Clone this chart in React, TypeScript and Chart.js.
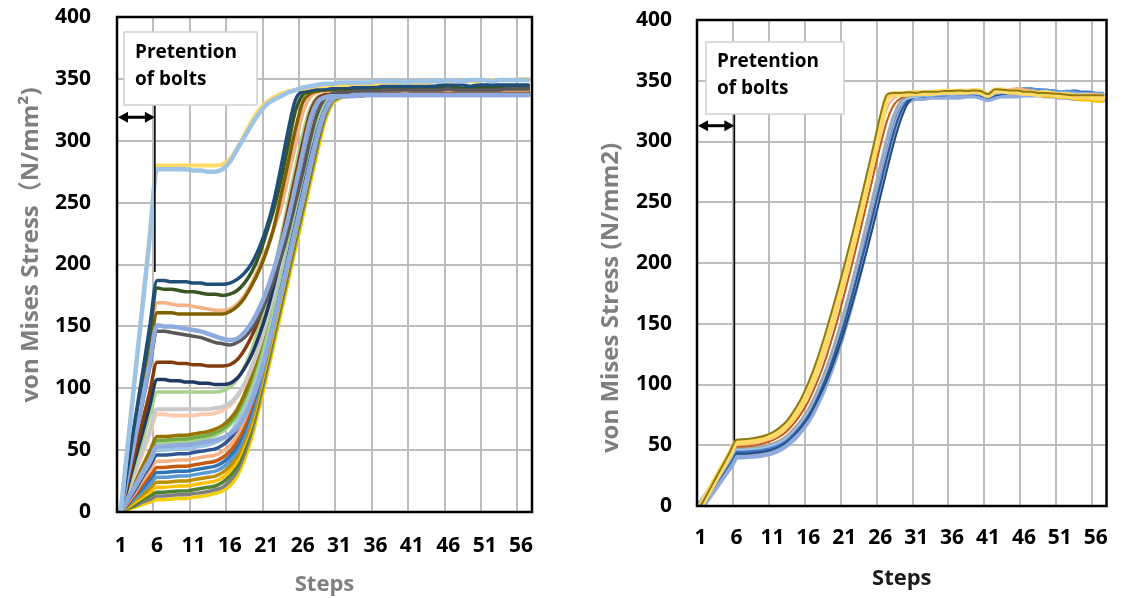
import React, { useEffect, useRef } from "react";
import { Chart, registerables } from "chart.js";

Chart.register(...registerables);

const FONT = '"Open Sans", "Noto Sans CJK SC", sans-serif';
const GRID = "#bdbdbd";
const CLEAR = "rgba(0,0,0,0)";

// ---------- categories & ticks ----------
const steps = [
  "1", "2", "3", "4", "5", "6", "7", "8", "9", "10",
  "11", "12", "13", "14", "15", "16", "17", "18", "19", "20",
  "21", "22", "23", "24", "25", "26", "27", "28", "29", "30",
  "31", "32", "33", "34", "35", "36", "37", "38", "39", "40",
  "41", "42", "43", "44", "45", "46", "47", "48", "49", "50",
  "51", "52", "53", "54", "55", "56", "57",
];
const yTicks = [0, 50, 100, 150, 200, 250, 300, 350, 400];
const noteLines = ["Pretention", "of bolts"];

// ---------- left panel series ----------
const leftYellow = [
  0, 56, 112, 168, 224, 280, 280, 280, 280, 280,
  280, 280, 280, 280, 281, 285, 294, 305, 316, 325,
  331, 335, 338, 340, 341, 342, 343, 344, 344, 345,
  345, 345, 346, 346, 346, 346, 347, 347, 347, 347,
  347, 347, 347, 348, 348, 348, 348, 348, 348, 348,
  349, 349, 349, 349, 349, 350, 350,
];
const leftLightBlue = [
  0, 55, 111, 166, 222, 277, 277, 277, 277, 277,
  276, 276, 275, 275, 277, 283, 293, 303, 313, 322,
  329, 333, 336, 339, 341, 343, 344, 345, 346, 346,
  347, 347, 347, 347, 347, 348, 348, 348, 348, 347,
  348, 348, 348, 348, 348, 349, 348, 348, 349, 349,
  349, 348, 349, 349, 349, 349, 349,
];
const leftDarkBlue = [
  0, 37, 75, 112, 150, 187, 187, 186, 186, 186,
  185, 185, 184, 184, 184, 185, 188, 193, 201, 213,
  229, 250, 278, 308, 333, 340, 341, 342, 342, 342,
  343, 343, 343, 343, 343, 344, 344, 344, 344, 344,
  344, 344, 344, 344, 345, 345, 345, 345, 344, 345,
  345, 345, 345, 345, 345, 345, 345,
];
const leftDarkGreen = [
  0, 36, 72, 109, 145, 181, 180, 180, 179, 178,
  178, 177, 176, 176, 175, 176, 179, 185, 194, 207,
  225, 244, 268, 296, 324, 337, 340, 341, 341, 342,
  342, 342, 342, 343, 343, 343, 343, 343, 343, 343,
  343, 343, 343, 343, 343, 343, 343, 342, 343, 343,
  343, 343, 343, 343, 343, 343, 343,
];
const leftLightOrange = [
  0, 34, 68, 101, 135, 169, 169, 168, 167, 167,
  166, 165, 164, 163, 163, 164, 168, 175, 185, 198,
  212, 228, 245, 270, 296, 322, 335, 339, 340, 340,
  340, 340, 341, 341, 341, 341, 341, 341, 341, 340,
  341, 341, 341, 341, 341, 341, 341, 341, 341, 341,
  341, 341, 341, 341, 341, 341, 341,
];
const leftOlive = [
  0, 32, 64, 97, 129, 161, 161, 161, 160, 160,
  160, 160, 160, 160, 160, 162, 166, 173, 183, 195,
  210, 229, 255, 282, 309, 331, 338, 340, 341, 341,
  341, 341, 342, 342, 342, 342, 342, 342, 342, 342,
  342, 342, 342, 342, 342, 342, 343, 342, 342, 342,
  342, 342, 342, 342, 342, 342, 342,
];
const leftPurpleBlue = [
  0, 30, 60, 91, 121, 151, 150, 150, 149, 148,
  147, 146, 144, 142, 140, 139, 140, 145, 153, 164,
  178, 195, 215, 237, 263, 290, 316, 331, 335, 336,
  336, 336, 336, 337, 337, 337, 337, 337, 337, 337,
  337, 337, 337, 337, 337, 337, 337, 337, 337, 337,
  337, 337, 337, 337, 337, 337, 337,
];
const leftDarkGray = [
  0, 29, 58, 88, 117, 146, 146, 145, 144, 143,
  142, 141, 139, 137, 136, 135, 137, 141, 148, 158,
  171, 187, 205, 226, 250, 274, 300, 322, 334, 338,
  339, 339, 340, 340, 340, 340, 341, 341, 341, 341,
  341, 341, 341, 341, 341, 342, 341, 341, 341, 341,
  341, 341, 341, 342, 342, 342, 342,
];
const leftBrown = [
  0, 24, 48, 73, 97, 121, 121, 121, 120, 120,
  119, 119, 118, 118, 118, 119, 123, 131, 142, 156,
  173, 193, 217, 244, 271, 298, 322, 334, 337, 338,
  338, 338, 338, 339, 339, 339, 339, 339, 339, 339,
  339, 339, 339, 339, 339, 339, 339, 339, 339, 339,
  339, 339, 339, 339, 339, 339, 339,
];
const leftNavy = [
  0, 21, 43, 64, 86, 107, 107, 106, 106, 105,
  105, 104, 104, 103, 103, 104, 108, 116, 127, 142,
  160, 182, 207, 234, 261, 288, 314, 331, 337, 338,
  338, 339, 339, 339, 340, 340, 340, 340, 340, 340,
  340, 340, 340, 340, 340, 340, 340, 340, 340, 340,
  340, 340, 340, 340, 340, 340, 340,
];
const leftLightGreen = [
  0, 19, 39, 58, 78, 97, 97, 97, 97, 97,
  97, 97, 97, 97, 98, 101, 107, 117, 131, 149,
  170, 194, 221, 250, 278, 305, 326, 335, 337, 337,
  338, 338, 338, 338, 338, 338, 338, 338, 338, 338,
  338, 338, 338, 338, 338, 338, 338, 338, 338, 338,
  338, 338, 338, 338, 338, 338, 338,
];
const leftLightGray = [
  0, 17, 33, 50, 66, 83, 83, 83, 83, 83,
  83, 83, 83, 84, 85, 88, 94, 104, 117, 133,
  153, 176, 201, 228, 255, 282, 308, 327, 335, 337,
  338, 338, 338, 339, 339, 339, 339, 339, 339, 339,
  339, 339, 339, 339, 339, 339, 339, 339, 339, 339,
  339, 339, 339, 339, 339, 339, 339,
];
const leftPeach = [
  0, 16, 32, 47, 63, 79, 79, 78, 78, 78,
  78, 79, 79, 80, 82, 86, 93, 103, 117, 134,
  154, 178, 204, 232, 259, 286, 311, 329, 336, 338,
  339, 339, 339, 340, 340, 340, 340, 340, 340, 340,
  340, 340, 340, 340, 340, 340, 340, 340, 340, 340,
  340, 340, 340, 340, 340, 340, 340,
];
const leftOlive2 = [
  0, 12, 24, 37, 49, 61, 61, 61.5, 62, 62,
  63, 64, 65, 67, 70, 75, 83, 95, 111, 130,
  153, 178, 204, 230, 255, 281, 305, 324, 334, 337,
  337, 338, 338, 338, 338, 338, 338, 338, 338, 338,
  338, 338, 338, 338, 338, 338, 338, 338, 338, 338,
  338, 338, 338, 338, 338, 338, 338,
];
const leftGreen = [
  0, 12, 23, 35, 46, 58, 58, 58.5, 59, 59,
  60, 61, 62, 64, 67, 72, 80, 92, 108, 127,
  150, 175, 201, 227, 253, 279, 303, 322, 334, 337,
  338, 338, 338, 339, 339, 339, 339, 339, 339, 339,
  339, 339, 339, 339, 339, 339, 339, 339, 339, 339,
  339, 339, 339, 339, 339, 339, 339,
];
const leftLightGreen2 = [
  0, 11, 22, 34, 45, 56, 56, 56.5, 57, 57,
  58, 59, 60, 62, 65, 70, 77, 88, 103, 121,
  143, 169, 195, 221, 247, 273, 298, 318, 332, 337,
  337, 338, 338, 338, 338, 338, 338, 338, 338, 338,
  338, 338, 338, 338, 338, 338, 338, 338, 338, 338,
  338, 338, 338, 338, 338, 338, 338,
];
const leftPurpleBlue2 = [
  0, 11, 21, 32, 42, 53, 53, 53.5, 54, 54,
  55, 56, 57, 58, 60, 63, 68, 77, 90, 107,
  128, 152, 177, 202, 228, 253, 279, 304, 323, 333,
  336, 336, 337, 337, 337, 337, 337, 337, 337, 337,
  337, 337, 337, 337, 337, 337, 337, 337, 337, 337,
  337, 337, 337, 337, 337, 337, 337,
];
const leftLightBlue2 = [
  0, 10, 20, 30, 40, 50, 50, 50.5, 51, 51,
  52, 53, 54, 56, 59, 64, 72, 83, 98, 117,
  140, 166, 192, 219, 245, 271, 296, 317, 331, 337,
  339, 339, 340, 340, 340, 341, 341, 341, 341, 341,
  341, 341, 341, 341, 341, 341, 341, 341, 341, 341,
  341, 341, 341, 341, 341, 341, 341,
];
const leftBlue2 = [
  0, 9, 18, 28, 37, 46, 46, 46.5, 47, 47,
  48, 49, 50, 51, 54, 59, 67, 78, 94, 113,
  137, 163, 189, 216, 242, 268, 293, 315, 330, 336,
  338, 338, 339, 339, 339, 340, 340, 340, 340, 340,
  340, 340, 340, 340, 340, 340, 340, 340, 340, 340,
  340, 340, 340, 340, 340, 340, 340,
];
const leftPeach2 = [
  0, 8, 16, 25, 33, 41, 41, 41.5, 42, 42,
  43, 44, 45, 46, 49, 54, 62, 74, 90, 110,
  134, 160, 186, 212, 238, 264, 290, 313, 329, 336,
  338, 339, 339, 340, 340, 340, 341, 341, 341, 341,
  341, 341, 341, 341, 341, 341, 341, 341, 341, 341,
  341, 341, 341, 341, 341, 341, 341,
];
const leftOrange = [
  0, 7, 14, 22, 29, 36, 36, 36.5, 37, 37,
  38, 39, 40, 41, 44, 49, 57, 69, 86, 107,
  131, 157, 183, 209, 235, 261, 287, 311, 328, 335,
  337, 337, 338, 338, 338, 339, 339, 339, 339, 339,
  339, 339, 339, 339, 339, 339, 339, 339, 339, 339,
  339, 339, 339, 339, 339, 339, 339,
];
const leftBlue3 = [
  0, 6, 13, 19, 26, 32, 32, 32.5, 33, 33,
  34, 35, 36, 37, 40, 45, 53, 66, 83, 104,
  129, 155, 181, 207, 233, 259, 285, 309, 327, 334,
  336, 337, 337, 337, 338, 338, 338, 338, 338, 338,
  338, 338, 338, 338, 338, 338, 338, 338, 338, 338,
  338, 338, 338, 338, 338, 338, 338,
];
const leftBlue4 = [
  0, 6, 11, 17, 22, 28, 28, 28.5, 29, 29,
  30, 31, 32, 33, 36, 41, 49, 62, 79, 101,
  126, 152, 178, 204, 230, 256, 282, 307, 326, 334,
  337, 337, 338, 338, 338, 339, 339, 339, 339, 339,
  339, 339, 339, 339, 339, 339, 339, 339, 339, 339,
  339, 339, 339, 339, 339, 339, 339,
];
const leftGold = [
  0, 5, 10, 14, 19, 24, 24, 24.5, 25, 25,
  26, 27, 28, 29, 32, 37, 45, 58, 75, 98,
  123, 149, 175, 201, 227, 253, 279, 305, 325, 334,
  336, 337, 337, 337, 338, 338, 338, 338, 338, 338,
  338, 338, 338, 338, 338, 338, 338, 338, 338, 338,
  338, 338, 338, 338, 338, 338, 338,
];
const leftYellow2 = [
  0, 4, 8, 12, 16, 20, 20, 20.5, 21, 21,
  22, 23, 24, 25, 28, 33, 41, 55, 72, 95,
  120, 146, 172, 198, 224, 250, 276, 302, 323, 333,
  336, 337, 337, 337, 338, 338, 338, 338, 338, 338,
  338, 338, 338, 338, 338, 338, 338, 338, 338, 338,
  338, 338, 338, 338, 338, 338, 338,
];
const leftGreen3 = [
  0, 3, 6, 10, 13, 16, 16, 16.5, 17, 17,
  18, 19, 20, 21, 24, 29, 37, 51, 69, 92,
  117, 143, 169, 195, 221, 247, 273, 299, 321, 332,
  335, 336, 336, 337, 337, 337, 337, 337, 337, 337,
  337, 337, 337, 337, 337, 337, 337, 337, 337, 337,
  337, 337, 337, 337, 337, 337, 337,
];
const leftGray = [
  0, 3, 5, 8, 10, 13, 13, 13.5, 14, 14,
  15, 15.5, 16.5, 18, 20, 25, 33, 47, 65, 88,
  113, 139, 165, 191, 217, 243, 269, 295, 318, 331,
  335, 336, 336, 336, 337, 337, 337, 337, 337, 337,
  337, 337, 337, 337, 337, 337, 337, 337, 337, 337,
  337, 337, 337, 337, 337, 337, 337,
];
const leftYellow3 = [
  0, 2, 4, 6, 8, 10, 10, 10.5, 11, 11,
  12, 12.5, 13.5, 15, 17, 21, 29, 42, 60, 83,
  108, 134, 160, 186, 212, 238, 264, 290, 314, 329,
  334, 336, 336, 336, 337, 337, 337, 337, 337, 337,
  337, 337, 337, 337, 337, 337, 337, 337, 337, 337,
  337, 337, 337, 337, 337, 337, 337,
];

// ---------- right panel series ----------
const rightOlive = [
  0, 10.9, 21.8, 32.7, 43.6, 54.5, 55, 55.5, 56.5, 58,
  60.5, 64.5, 70, 78.5, 88.5, 101.5, 117, 135, 155, 176,
  198, 221, 245, 270, 295, 321, 339, 340, 340, 340.5,
  340, 341, 341, 341, 341.5, 341.5, 342, 341.5, 342, 341.5,
  339, 343, 342.5, 342, 342, 341, 341, 340, 340, 339.5,
  339, 338.5, 338, 338, 338, 338, 338,
];
const rightYellow = [
  0, 10.5, 21, 31.5, 42, 52.5, 53, 53.5, 54.5, 56,
  58, 61.5, 66.5, 74, 83, 95, 110, 127, 146, 167,
  189, 212, 236, 261, 286, 312, 337, 339, 339, 339.5,
  340, 340, 340, 340.5, 341, 341, 341, 341, 341.5, 341,
  338, 342, 342, 341, 341, 340, 340, 339, 340, 339,
  338, 338, 337, 337, 337, 336, 336,
];
const rightGold = [
  0, 10.4, 20.8, 31.2, 41.6, 52, 52.5, 53, 54, 55.5,
  57.5, 61, 66, 73, 82, 94, 108, 125, 144, 165,
  187, 210, 234, 259, 284, 310, 334, 338, 339, 339,
  339, 340, 340, 340, 340, 341, 341, 341, 341, 340,
  339, 341, 342, 342, 341, 340, 339, 338, 337, 337,
  336, 336, 335, 334, 334, 333, 333,
];
const rightLightOrange = [
  0, 10, 20, 30, 40, 50, 50.5, 51, 52, 53.5,
  55.5, 59, 64, 71, 80, 91, 105, 121, 140, 161,
  183, 206, 230, 255, 280, 305, 328, 336, 338, 339,
  339, 339, 340, 340, 340, 340, 341, 341, 341, 341,
  339, 342, 342, 343, 344, 343, 342, 341, 340, 340,
  339, 340, 339, 338, 339, 339, 338,
];
const rightBrown = [
  0, 9.8, 19.6, 29.4, 39.2, 49, 49, 49.5, 50.5, 52,
  54, 57, 61.5, 68, 76, 86, 99, 114, 132, 152,
  174, 197, 221, 246, 271, 296, 318, 331, 336, 338,
  339, 339, 339, 340, 340, 340, 340, 341, 340, 340,
  339, 341, 341, 342, 342, 343, 342, 341, 340, 339,
  339, 338, 338, 337, 337, 336, 336,
];
const rightGray = [
  0, 9.6, 19.2, 28.8, 38.4, 48, 48, 48.5, 49, 50,
  51.5, 54, 58, 64, 71, 80, 92, 106, 122, 140,
  160, 182, 205, 229, 254, 279, 303, 323, 334, 337,
  338, 338, 339, 339, 339, 340, 340, 340, 340, 339,
  338, 340, 341, 341, 342, 342, 341, 341, 340, 340,
  340, 339, 338, 338, 338, 337, 337,
];
const rightLightBlue = [
  0, 9.4, 18.8, 28.2, 37.6, 47, 47, 47.5, 48, 49,
  50.5, 53, 57, 63, 70, 79, 91, 105, 121, 139,
  159, 181, 204, 228, 253, 278, 302, 322, 333, 336,
  337, 338, 338, 339, 339, 339, 340, 340, 340, 339,
  338, 340, 341, 341, 341, 342, 342, 341, 341, 340,
  340, 340, 339, 339, 339, 339, 339,
];
const rightMidBlue = [
  0, 9.2, 18.4, 27.6, 36.8, 46, 46, 46.5, 47, 48,
  49.5, 52, 56, 62, 69, 78, 90, 104, 120, 138,
  158, 180, 203, 227, 252, 277, 301, 321, 332, 336,
  337, 337, 338, 338, 339, 339, 339, 340, 340, 339,
  337, 339, 340, 341, 342, 344, 344, 343, 343, 342,
  341, 342, 341, 340, 340, 339, 339,
];
const rightBlue = [
  0, 9, 18, 27, 36, 45, 45, 45.5, 46, 47,
  48.5, 51, 55, 61, 68, 77, 89, 103, 119, 137,
  157, 179, 202, 226, 251, 276, 300, 320, 332, 336,
  337, 337, 338, 338, 338, 339, 339, 339, 339, 338,
  336, 339, 340, 340, 341, 342, 342, 343, 342, 342,
  341, 341, 342, 341, 341, 340, 340,
];
const rightDarkBlue = [
  0, 8.8, 17.6, 26.4, 35.2, 44, 44, 44.5, 45, 46,
  47.5, 50, 54, 59.5, 66.5, 75, 86, 99, 114, 131,
  150, 171, 193, 216, 240, 264, 288, 310, 326, 335,
  338, 338, 338, 339, 339, 339, 339, 339, 339, 338,
  336, 338, 339, 339, 340, 340, 341, 341, 340, 340,
  339, 339, 338, 338, 337, 337, 336,
];
const rightNavy = [
  0, 8.6, 17.2, 25.8, 34.4, 43, 43, 43.5, 44, 45,
  46.5, 49, 53, 58.5, 65, 73, 84, 96, 110, 126,
  144, 164, 185, 207, 230, 254, 278, 301, 320, 333,
  337, 338, 338, 338, 339, 339, 339, 339, 339, 338,
  336, 338, 339, 340, 340, 341, 341, 341, 341, 340,
  340, 340, 339, 339, 338, 338, 338,
];
const rightPurple = [
  0, 8.4, 16.8, 25.2, 33.6, 42, 42, 42.5, 43, 44,
  45.5, 48, 52, 57.5, 64.5, 73, 84.5, 98, 113.5, 131,
  151, 172, 195, 219, 244, 269, 294, 316, 330, 335,
  337, 337, 338, 338, 338, 338, 338, 339, 339, 338,
  336, 338, 339, 339, 339, 340, 340, 340, 339, 339,
  338, 338, 337, 337, 337, 336, 336,
];

type Series = { label: string; color: string; width: number; data: number[] };

// first entry is drawn on top
const leftSeries: Series[] = [
  { label: "S1", color: "#9dc3e6", width: 4.5, data: leftLightBlue },
  { label: "S2", color: "#ffd966", width: 4, data: leftYellow },
  { label: "S3", color: "#1f4e79", width: 3.5, data: leftDarkBlue },
  { label: "S4", color: "#8faadc", width: 4.5, data: leftPurpleBlue2 },
  { label: "S5", color: "#8faadc", width: 4.5, data: leftPurpleBlue },
  { label: "S6", color: "#595959", width: 3.5, data: leftDarkGray },
  { label: "S7", color: "#385723", width: 3.5, data: leftDarkGreen },
  { label: "S8", color: "#7f6000", width: 3.5, data: leftOlive },
  { label: "S9", color: "#f4b183", width: 3.5, data: leftLightOrange },
  { label: "S10", color: "#843c0c", width: 3.5, data: leftBrown },
  { label: "S11", color: "#203864", width: 3.5, data: leftNavy },
  { label: "S12", color: "#a9d18e", width: 3.5, data: leftLightGreen },
  { label: "S13", color: "#c9c9c9", width: 4, data: leftLightGray },
  { label: "S14", color: "#f8cbad", width: 4, data: leftPeach },
  { label: "S15", color: "#997300", width: 3.5, data: leftOlive2 },
  { label: "S16", color: "#70ad47", width: 3.5, data: leftGreen },
  { label: "S17", color: "#a9d18e", width: 3.5, data: leftLightGreen2 },
  { label: "S18", color: "#9dc3e6", width: 3.5, data: leftLightBlue2 },
  { label: "S19", color: "#2f5597", width: 3.5, data: leftBlue2 },
  { label: "S20", color: "#f4b183", width: 3.5, data: leftPeach2 },
  { label: "S21", color: "#c55a11", width: 3.5, data: leftOrange },
  { label: "S22", color: "#2e75b6", width: 3.5, data: leftBlue3 },
  { label: "S23", color: "#5b9bd5", width: 3.5, data: leftBlue4 },
  { label: "S24", color: "#bf9000", width: 3.5, data: leftGold },
  { label: "S25", color: "#ffc000", width: 3.5, data: leftYellow2 },
  { label: "S26", color: "#548235", width: 3.5, data: leftGreen3 },
  { label: "S27", color: "#7f7f7f", width: 3.5, data: leftGray },
  { label: "S28", color: "#f5d000", width: 3.5, data: leftYellow3 },
];

const rightSeries: Series[] = [
  { label: "R1", color: "#8c7a12", width: 2, data: rightOlive },
  { label: "R2", color: "#ffd966", width: 6, data: rightYellow },
  { label: "R3", color: "#ffc000", width: 2.5, data: rightGold },
  { label: "R4", color: "#f4b183", width: 2, data: rightLightOrange },
  { label: "R5", color: "#c55a11", width: 2, data: rightBrown },
  { label: "R6", color: "#a5a5a5", width: 2, data: rightGray },
  { label: "R7", color: "#9dc3e6", width: 3, data: rightLightBlue },
  { label: "R8", color: "#5b9bd5", width: 2, data: rightMidBlue },
  { label: "R9", color: "#4472c4", width: 2.5, data: rightBlue },
  { label: "R10", color: "#2f5597", width: 2, data: rightDarkBlue },
  { label: "R11", color: "#1f4e79", width: 2, data: rightNavy },
  { label: "R12", color: "#8faadc", width: 9, data: rightPurple },
];

type Panel = {
  id: string;
  series: Series[];
  yAxisWidth: number;
  areaTop: number;
  padRight: number;
  xAxisHeight: number;
  xTickPad: number;
  xTitlePadBottom: number;
  xTitleColor: string;
  yLabelGap: number;
  yTitle: string;
  titleX: number;
  titleY: number;
  box: { x: number; y: number; w: number; h: number };
  textX: number;
  line1Y: number;
  line2Y: number;
  arrowValue: number;
  vlineTop: number;
  vlineBottomValue: number;
};

const leftPanel: Panel = {
  id: "L",
  series: leftSeries,
  yAxisWidth: 117,
  areaTop: 17,
  padRight: 28,
  xAxisHeight: 86,
  xTickPad: 21,
  xTitlePadBottom: 0,
  xTitleColor: "#7f7f7f",
  yLabelGap: 26,
  yTitle: "von Mises Stress（N/mm²)",
  titleX: 31,
  titleY: 245,
  box: { x: 124, y: 32, w: 133, h: 73 },
  textX: 135,
  line1Y: 53,
  line2Y: 80,
  arrowValue: 319,
  vlineTop: 105,
  vlineBottomValue: 194,
};

const rightPanel: Panel = {
  id: "R",
  series: rightSeries,
  yAxisWidth: 135,
  areaTop: 20,
  padRight: 6,
  xAxisHeight: 92,
  xTickPad: 19,
  xTitlePadBottom: 6,
  xTitleColor: "#1a1a1a",
  yLabelGap: 25,
  yTitle: "von Mises Stress (N/mm2)",
  titleX: 49,
  titleY: 298,
  box: { x: 144, y: 42, w: 138, h: 72 },
  textX: 155,
  line1Y: 62,
  line2Y: 89,
  arrowValue: 313,
  vlineTop: 114,
  vlineBottomValue: 54,
};

function annotationPlugin(p: Panel) {
  return {
    id: "annot" + p.id,
    afterDraw(chart: any) {
      const { ctx, chartArea: a } = chart;
      const xs = chart.scales.x;
      const ys = chart.scales.y;
      ctx.save();
      // plot frame
      ctx.strokeStyle = "#000";
      ctx.lineWidth = 2.5;
      ctx.strokeRect(a.left, a.top, a.right - a.left, a.bottom - a.top);

      // pretension boundary line
      const cw = xs.getPixelForValue(1) - xs.getPixelForValue(0);
      const xv = xs.getPixelForValue(5) - 0.3 * cw;
      const yBot = ys.getPixelForValue(p.vlineBottomValue);
      ctx.lineWidth = 1.6;
      ctx.beginPath();
      ctx.moveTo(xv, p.vlineTop);
      ctx.lineTo(xv, yBot);
      ctx.stroke();

      // double arrow
      const ya = ys.getPixelForValue(p.arrowValue);
      const x0 = a.left + 1;
      const x1 = xv;
      const hl = 10;
      const hw = 5.5;
      ctx.lineWidth = 3;
      ctx.beginPath();
      ctx.moveTo(x0 + hl - 1, ya);
      ctx.lineTo(x1 - hl + 1, ya);
      ctx.stroke();
      ctx.fillStyle = "#000";
      ctx.beginPath();
      ctx.moveTo(x0, ya);
      ctx.lineTo(x0 + hl, ya - hw);
      ctx.lineTo(x0 + hl, ya + hw);
      ctx.closePath();
      ctx.fill();
      ctx.beginPath();
      ctx.moveTo(x1, ya);
      ctx.lineTo(x1 - hl, ya - hw);
      ctx.lineTo(x1 - hl, ya + hw);
      ctx.closePath();
      ctx.fill();

      // note box
      ctx.fillStyle = "#fff";
      ctx.fillRect(p.box.x, p.box.y, p.box.w, p.box.h);
      ctx.strokeStyle = "#d0d0d0";
      ctx.lineWidth = 1.5;
      ctx.strokeRect(p.box.x, p.box.y, p.box.w, p.box.h);
      ctx.fillStyle = "#000";
      ctx.font = `bold 19px ${FONT}`;
      ctx.textAlign = "left";
      ctx.textBaseline = "middle";
      ctx.fillText(noteLines[0], p.textX, p.line1Y);
      ctx.fillText(noteLines[1], p.textX, p.line2Y);

      // y axis title
      ctx.translate(p.titleX, p.titleY);
      ctx.rotate(-Math.PI / 2);
      ctx.font = `bold 24px ${FONT}`;
      ctx.fillStyle = "#7f7f7f";
      ctx.textAlign = "center";
      ctx.textBaseline = "middle";
      ctx.fillText(p.yTitle, 0, 0);
      ctx.restore();
    },
  };
}

function buildConfig(p: Panel): any {
  const tickFont = { family: FONT, size: 21, weight: "bold" as const };
  return {
    type: "line",
    data: {
      labels: steps,
      datasets: p.series.map((s) => ({
        label: s.label,
        data: s.data,
        borderColor: s.color,
        backgroundColor: s.color,
        borderWidth: s.width,
        pointRadius: 0,
        pointHoverRadius: 0,
        fill: false,
        cubicInterpolationMode: "monotone",
        borderJoinStyle: "round",
        borderCapStyle: "round",
      })),
    },
    options: {
      responsive: false,
      animation: false,
      events: [],
      layout: { padding: { left: 0, top: p.areaTop, right: p.padRight, bottom: 0 } },
      plugins: { legend: { display: false }, tooltip: { enabled: false }, title: { display: false } },
      scales: {
        x: {
          type: "category",
          offset: true,
          border: { display: false },
          grid: {
            offset: true,
            drawTicks: false,
            lineWidth: 2,
            color: (c: any) =>
              typeof c.index === "number" && c.index > 0 && c.index < steps.length && c.index % 5 === 0
                ? GRID
                : CLEAR,
          },
          ticks: {
            autoSkip: false,
            maxRotation: 0,
            minRotation: 0,
            padding: p.xTickPad,
            color: "#000",
            font: tickFont,
            callback: (_v: any, i: number) => (i % 5 === 0 ? steps[i] : ""),
          },
          title: {
            display: true,
            text: "Steps",
            color: p.xTitleColor,
            font: { family: FONT, size: 22, weight: "bold" },
            padding: { top: 0, bottom: p.xTitlePadBottom },
          },
          afterFit: (s: any) => {
            s.height = p.xAxisHeight;
          },
        },
        y: {
          min: 0,
          max: 400,
          border: { display: false },
          afterBuildTicks: (s: any) => {
            s.ticks = yTicks.map((v) => ({ value: v }));
          },
          grid: {
            drawTicks: true,
            tickLength: p.yLabelGap,
            tickColor: CLEAR,
            lineWidth: 2,
            color: (c: any) => (c.tick && c.tick.value > 0 && c.tick.value < 400 ? GRID : CLEAR),
          },
          ticks: {
            padding: 0,
            color: "#000",
            font: tickFont,
          },
          afterFit: (s: any) => {
            s.width = p.yAxisWidth;
          },
        },
      },
    },
    plugins: [annotationPlugin(p)],
  };
}

export default function App() {
  const leftRef = useRef<HTMLCanvasElement | null>(null);
  const rightRef = useRef<HTMLCanvasElement | null>(null);

  useEffect(() => {
    const charts: Chart[] = [];
    if (leftRef.current) charts.push(new Chart(leftRef.current, buildConfig(leftPanel)));
    if (rightRef.current) charts.push(new Chart(rightRef.current, buildConfig(rightPanel)));
    return () => {
      charts.forEach((c) => c.destroy());
    };
  }, []);

  return (
    <div
      style={{
        position: "fixed",
        left: 0,
        top: 0,
        width: 1122,
        height: 598,
        background: "#ffffff",
        overflow: "hidden",
      }}
    >
      <canvas
        ref={leftRef}
        width={560}
        height={598}
        style={{ position: "absolute", left: 0, top: 0, width: 560, height: 598 }}
      />
      <canvas
        ref={rightRef}
        width={560}
        height={598}
        style={{ position: "absolute", left: 562, top: 0, width: 560, height: 598 }}
      />
    </div>
  );
}
